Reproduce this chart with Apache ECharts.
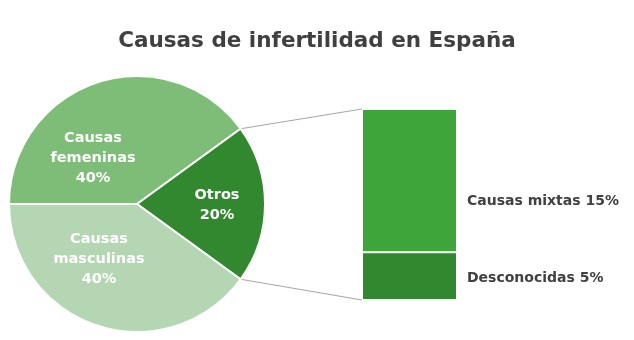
<!DOCTYPE html>
<html>
<head>
<meta charset="utf-8">
<script src="https://cdn.jsdelivr.net/npm/echarts@6/dist/echarts.min.js"></script>
<style>
  html, body { margin: 0; padding: 0; background: #ffffff; }
  #chart { width: 634px; height: 340px; }
</style>
</head>
<body>
<div id="chart"></div>
<script>
// Main pie: share of each cause (percent)
const pieNames = ['Causas\nfemeninas', 'Otros', 'Causas\nmasculinas'];
const pieValues = [40, 20, 40];

// Breakdown of "Otros" shown in the stacked bar (percent), bottom to top
const barNames = ['Desconocidas', 'Causas mixtas'];
const barValues = [5, 15];

// Styling and layout
const FONT = '"DejaVu Sans", "Open Sans", sans-serif';
const pieColors = ['#7dbd78', '#32882e', '#b4d6b2'];
const barColors = ['#32882e', '#3ea53a'];
const pieCenter = [137, 204];
const pieRadius = 128;
const pieLabelPos = [[93, 158], [217, 205], [99, 259]];
const barLabelY = [278, 201];
const barGrid = { left: 362, top: 109, width: 95, height: 191 };
const barTotal = barValues.reduce((a, b) => a + b, 0);

const chart = echarts.init(document.getElementById('chart'), null, { renderer: 'canvas' });

const barSeries = barNames.map((name, i) => ({
  type: 'bar',
  name: name,
  stack: 'otros',
  barWidth: '100%',
  data: [barValues[i]],
  itemStyle: { color: barColors[i], borderColor: '#ffffff', borderWidth: 1 },
  label: {
    show: true,
    position: 'right',
    distance: 10,
    formatter: p => p.seriesName + ' ' + p.value + '%',
    color: '#404040',
    fontFamily: FONT,
    fontSize: 14,
    fontWeight: 'bold'
  },
  labelLayout: () => ({ y: barLabelY[i], verticalAlign: 'middle' }),
  emphasis: { disabled: true },
  silent: true
}));

chart.setOption({
  animation: false,
  backgroundColor: '#ffffff',
  title: {
    text: 'Causas de infertilidad en España',
    left: 'center',
    top: 25,
    textStyle: { fontFamily: FONT, fontSize: 21.5, fontWeight: 'bold', color: '#404040' }
  },
  grid: barGrid,
  xAxis: { type: 'category', data: ['Otros'], show: false },
  yAxis: { type: 'value', min: 0, max: barTotal, show: false },
  series: [
    {
      type: 'pie',
      center: pieCenter,
      radius: pieRadius,
      startAngle: 180,
      clockwise: true,
      avoidLabelOverlap: false,
      data: pieNames.map((n, i) => ({ name: n, value: pieValues[i], itemStyle: { color: pieColors[i] } })),
      itemStyle: { borderColor: '#ffffff', borderWidth: 2 },
      label: {
        show: true,
        position: 'inside',
        formatter: p => p.name + '\n' + Math.round(p.percent) + '%',
        color: '#ffffff',
        fontFamily: FONT,
        fontSize: 14.5,
        fontWeight: 'bold',
        lineHeight: 20,
        align: 'center'
      },
      labelLine: { show: false },
      labelLayout: p => ({
        x: pieLabelPos[p.dataIndex][0],
        y: pieLabelPos[p.dataIndex][1],
        align: 'center',
        verticalAlign: 'middle'
      }),
      emphasis: { disabled: true },
      silent: true
    }
  ].concat(barSeries)
});

// Connector lines from the edges of the "Otros" slice to the corners of the bar
(function drawConnectors() {
  const total = pieValues.reduce((a, b) => a + b, 0);
  const otrosIdx = 1;
  let before = 0;
  for (let i = 0; i < otrosIdx; i++) before += pieValues[i];
  const a0 = (180 - 360 * before / total) * Math.PI / 180;
  const a1 = (180 - 360 * (before + pieValues[otrosIdx]) / total) * Math.PI / 180;
  const p0 = [pieCenter[0] + pieRadius * Math.cos(a0), pieCenter[1] - pieRadius * Math.sin(a0)];
  const p1 = [pieCenter[0] + pieRadius * Math.cos(a1), pieCenter[1] - pieRadius * Math.sin(a1)];
  const topPx = chart.convertToPixel({ gridIndex: 0 }, [0, barTotal]);
  const botPx = chart.convertToPixel({ gridIndex: 0 }, [0, 0]);
  const barLeft = barGrid.left;
  const lineStyle = { stroke: '#a6a6a6', lineWidth: 1 };
  chart.setOption({
    graphic: [
      { type: 'line', shape: { x1: p0[0], y1: p0[1], x2: barLeft, y2: topPx[1] }, style: lineStyle, silent: true },
      { type: 'line', shape: { x1: p1[0], y1: p1[1], x2: barLeft, y2: botPx[1] }, style: lineStyle, silent: true }
    ]
  });
})();
</script>
</body>
</html>
